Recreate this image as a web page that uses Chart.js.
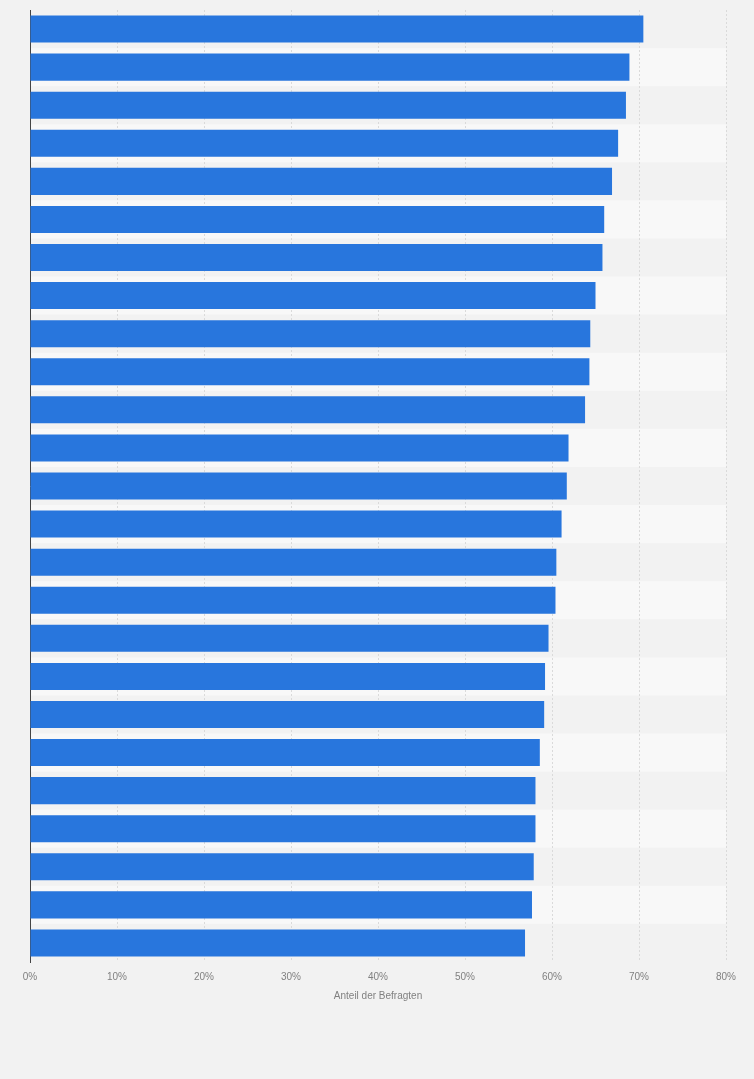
<!DOCTYPE html>
<html>
<head>
<meta charset="utf-8">
<script src="https://cdn.jsdelivr.net/npm/chart.js@4"></script>
<style>
  html, body { margin: 0; padding: 0; background: #f2f2f2; }
  #wrap { width: 754px; height: 1079px; position: relative; }
</style>
</head>
<body>
<div id="wrap"><canvas id="chart"></canvas></div>
<script>
// categories are not labelled in the picture, so they are numbered
const categories = [
    "1", "2", "3", "4", "5", "6", "7", "8", "9", "10",
    "11", "12", "13", "14", "15", "16", "17", "18", "19", "20",
    "21", "22", "23", "24", "25"
];
const shares = [
    70.5, 68.9, 68.5, 67.6, 66.9, 66.0, 65.8, 65.0, 64.4, 64.3,
    63.8, 61.9, 61.7, 61.1, 60.5, 60.4, 59.6, 59.2, 59.1, 58.6,
    58.1, 58.1, 57.9, 57.7, 56.9
];
const xTicks = [0, 10, 20, 30, 40, 50, 60, 70, 80];
const xTitle = "Anteil der Befragten";

// lighter stripe behind every second row
const stripes = {
    id: "stripes",
    beforeDraw(chart) {
        const { ctx, chartArea, scales } = chart;
        const y = scales.y;
        const band = (chartArea.bottom - chartArea.top) / categories.length;
        ctx.save();
        ctx.fillStyle = "#f8f8f8";
        categories.forEach((c, i) => {
            if (i % 2 === 1) {
                const mid = y.getPixelForValue(i);
                ctx.fillRect(chartArea.left, mid - band / 2, chartArea.right - chartArea.left, band);
            }
        });
        ctx.restore();
    }
};

const ctx = document.getElementById("chart").getContext("2d");
new Chart(ctx, {
    type: "bar",
    data: {
        labels: categories,
        datasets: [{
            data: shares,
            backgroundColor: "#2876dd",
            borderWidth: 0,
            barPercentage: 0.71,
            categoryPercentage: 1
        }]
    },
    options: {
        indexAxis: "y",
        responsive: true,
        maintainAspectRatio: false,
        animation: false,
        layout: { padding: { left: 30, right: 28, top: 10, bottom: 77 } },
        plugins: {
            legend: { display: false },
            tooltip: { enabled: false }
        },
        scales: {
            x: {
                min: 0,
                max: 80,
                afterBuildTicks(scale) {
                    scale.ticks = xTicks.map(v => ({ value: v }));
                },
                grid: {
                    color: ctx => ctx.tick && ctx.tick.value === 0 ? "rgba(0,0,0,0)" : "#dadada",
                    drawTicks: false
                },
                border: { display: false, dash: [2, 2] },
                ticks: {
                    padding: 9,
                    color: "#808080",
                    font: { family: "'Liberation Sans', Arial, sans-serif", size: 10 },
                    callback: v => v + "%"
                },
                title: {
                    display: true,
                    text: xTitle,
                    color: "#808080",
                    font: { family: "'Liberation Sans', Arial, sans-serif", size: 10 },
                    padding: { top: -2, bottom: 0 }
                }
            },
            y: {
                grid: { display: false, drawTicks: false },
                border: { display: true, color: "#444", width: 1 },
                ticks: { display: false }
            }
        }
    },
    plugins: [stripes]
});
</script>
</body>
</html>
